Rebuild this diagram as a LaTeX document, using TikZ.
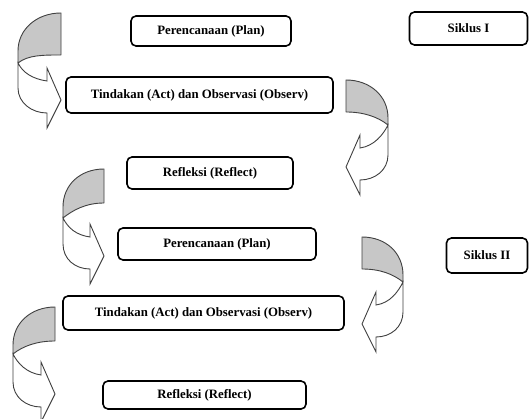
\documentclass[tikz,border=0pt]{standalone}
\usepackage{fontspec}
\setmainfont{Liberation Serif}
\newcommand\CurvArr[6]{% x, y, dir, W, h, c
\begin{scope}[shift={(#1,#2)}, xscale=#3]
\path[front] (#4,#6) -- (#4,75) .. controls (#4,90) and (29,100) .. (14,100) -- (14,115) -- (0,87) -- (14,55) -- (14,68) .. controls (28,66) and (#4-5,#6+10) .. (#4,#6) -- cycle;
\path[back] (0,0) .. controls (24,0) and (#4,16) .. (#4,38) -- (#4,#6) .. controls (#4-10,#6-8) and (18,#5) .. (0,#5) -- cycle;
\end{scope}}
\begin{document}
\begin{tikzpicture}[x=1pt,y=-1pt,
  box/.style={draw=black, line width=1.6pt, rounded corners=5pt, fill=white, inner sep=0pt, outer sep=0pt, font=\fontsize{12.8}{15}\selectfont\bfseries, align=center},
  back/.style={fill=black!22, draw=black!75, line width=0.9pt, line join=round},
  front/.style={fill=white, draw=black!75, line width=0.9pt, line join=miter}]
\useasboundingbox (0,0) rectangle (529,419);
\clip (0,0) rectangle (529,419);
\fill[white] (0,0) rectangle (529,419);
% curved arrows
\CurvArr{61}{13}{-1}{43}{42}{50}
\CurvArr{346}{80}{1}{42}{32}{45}
\CurvArr{104}{169}{-1}{41}{34}{49}
\CurvArr{362}{237}{1}{41}{32}{45}
\CurvArr{55}{307}{-1}{42}{34}{47}
% boxes
\node[box, minimum width=160pt, minimum height=30pt] (plan1) at (211,31) {Perencanaan (Plan)};
\node[box, minimum width=118pt, minimum height=33pt] (siklus1) at (468.5,28.5) {Siklus I};
\node[box, minimum width=267pt, minimum height=36pt] (act1) at (199.5,95) {Tindakan (Act) dan Observasi (Observ)};
\node[box, minimum width=166pt, minimum height=32pt] (ref1) at (210,173) {Refleksi (Reflect)};
\node[box, minimum width=198pt, minimum height=32pt] (plan2) at (217,244) {Perencanaan (Plan)};
\node[box, minimum width=81pt, minimum height=35pt] (siklus2) at (487,255.5) {Siklus II};
\node[box, minimum width=281pt, minimum height=34pt] (act2) at (203.5,313) {Tindakan (Act) dan Observasi (Observ)};
\node[box, minimum width=203pt, minimum height=28pt] (ref2) at (204.5,395) {Refleksi (Reflect)};
\end{tikzpicture}
\end{document}
